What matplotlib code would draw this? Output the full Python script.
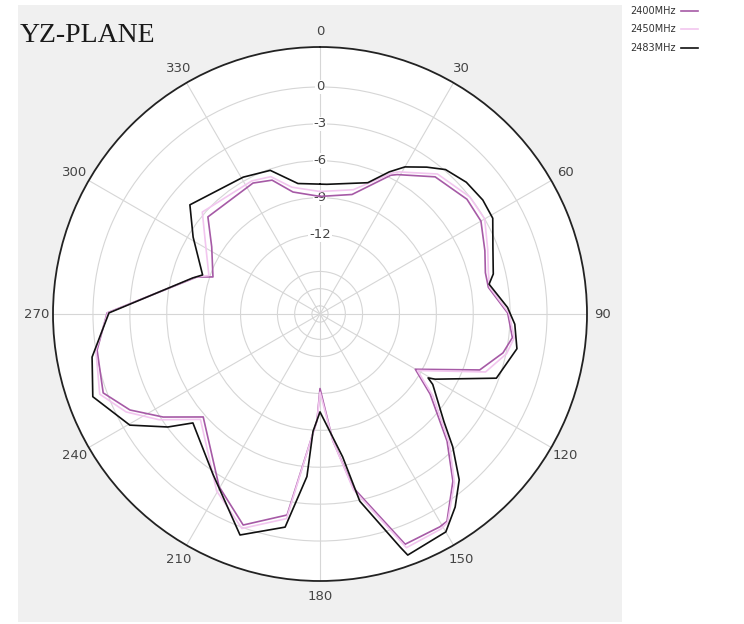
import numpy as np
import matplotlib
matplotlib.use("Agg")
import matplotlib.pyplot as plt
from matplotlib.patches import Rectangle
from matplotlib.lines import Line2D

# ---- data (angle in degrees, gain in dB) ----
ang_2400 = [0, 15, 27, 29, 40, 52, 60, 69, 76, 81, 89.7, 97, 102, 109.3, 120.1, 126,
            135, 141.5, 148.5, 150.6, 159.7, 169.2, 174.2, 180, 181.6, 189.3, 200,
            210.3, 228.6, 236.7, 243.2, 250, 260.8, 270.3, 286.7, 289.1, 301.8,
            310.9, 332.9, 340.3, 347.5]
gain_2400 = [-8.9, -8.4, -5.8, -5.5, -3.9, -3.3, -3.35, -4.1, -4.6, -4.6, -3.2, -2.7,
             -3.25, -4.7, -9.5, -7.4, -3.85, -1.1, 1.3, 1.4, 1.5, -4.1, -8.1, -12.4,
             -9.8, -1.9, -0.2, -2.2, -5.8, -3.2, -1.15, 0.3, -0.1, -1.15, -8.0, -9.25,
             -8.1, -6.4, -6.5, -6.9, -8.3]

ang_2450 = ang_2400
gain_2450 = [-8.5, -8.0, -5.6, -5.25, -3.6, -3.0, -3.0, -3.85, -4.35, -4.5, -3.1, -2.55,
             -2.95, -4.2, -9.3, -7.1, -3.6, -0.9, 1.4, 1.6, 1.8, -3.9, -8.1, -12.1,
             -9.8, -1.6, 0.1, -1.8, -5.5, -2.8, -0.8, 0.6, 0.0, -1.2, -7.95, -8.9,
             -7.5, -5.8, -6.3, -6.6, -7.9]

ang_2483 = [0, 3, 20, 26, 30, 36, 41, 48, 55, 61, 69, 77, 80, 88, 93, 100, 110, 119.5,
            120.6, 122, 131, 135, 140, 145, 150, 160, 161, 168, 171, 180, 183.4, 184.6,
            189.3, 199.9, 213.8, 229.4, 233.4, 239.7, 250, 259.3, 270.3, 285.8, 288.4,
            301.2, 310, 330.7, 340.9, 350.4]
gain_2483 = [-7.9, -7.9, -7.1, -5.6, -4.65, -3.7, -2.9, -2.45, -2.3, -2.4, -3.4, -4.0,
             -4.5, -3.2, -2.6, -2.2, -3.2, -7.7, -8.25, -7.65, -5.1, -3.2, -0.85, 0.7,
             2.0, 2.4, 1.6, -2.9, -6.7, -10.5, -8.9, -5.2, -0.9, 0.65, -2.8, -4.85,
             -3.05, -0.55, 1.2, 0.4, -1.3, -7.7, -8.4, -6.4, -4.65, -5.7, -6.1, -7.7]

series_names = ["2400MHz", "2450MHz", "2483MHz"]
series_colors = ["#a65aa6", "#f2c6ef", "#111111"]

theta_ticks = list(range(0, 360, 30))
theta_labels = [str(t) for t in theta_ticks]
ring_values = [-17.8, -16.4, -15, -12, -9, -6, -3, 0]
ring_labels = ["0", "-3", "-6", "-9", "-12"]
ring_label_values = [0, -3, -6, -9, -12]

W, H = 744, 624
fig = plt.figure(figsize=(W / 100, H / 100), dpi=100)
fig.patch.set_facecolor("white")

# gray panel
fig.patches.append(Rectangle((18 / W, 2 / H), (622 - 18) / W, (622 - 5) / H,
                             transform=fig.transFigure, facecolor="#f0f0f0",
                             edgecolor="none", zorder=-5))

cx, cy, R = 320, 314, 267
ax = fig.add_axes([(cx - R) / W, (H - cy - R) / H, 2 * R / W, 2 * R / H],
                  projection="polar")
ax.set_zorder(2)
ax.set_facecolor("white")
ax.set_theta_zero_location("N")
ax.set_theta_direction(-1)
ax.set_ylim(-18.46, 3.25)

ax.set_thetagrids(theta_ticks, theta_labels)
ax.set_rgrids(ring_values, labels=[""] * len(ring_values))
ax.grid(True, color="#d6d6d6", lw=0.8)
ax.tick_params(axis="x", pad=1, labelsize=9.5, colors="#444444")
ax.spines["polar"].set_color("#222222")
ax.spines["polar"].set_linewidth(1.3)

for v, lab in zip(ring_label_values, ring_labels):
    ax.text(0, v, lab, ha="center", va="center", fontsize=9.5, color="#444444",
            bbox=dict(facecolor="white", edgecolor="none", pad=0.6), zorder=3)

angs = [ang_2400, ang_2450, ang_2483]
gains = [gain_2400, gain_2450, gain_2483]
for a, g, c in zip(angs, gains, series_colors):
    th = np.deg2rad(np.array(list(a) + [a[0]]))
    gg = np.array(list(g) + [g[0]])
    ax.plot(th, gg, color=c, lw=1.2, zorder=4)

# title
fig.text(20 / W, 1 - 42 / H, "YZ-PLANE", family="Liberation Serif", fontsize=20,
         color="#1a1a1a", va="baseline", ha="left")

# legend (outside panel, top right)
rows_y = [11, 29, 48]
for name, c, yy in zip(series_names, series_colors, rows_y):
    fig.text(630 / W, 1 - yy / H, name, fontsize=7, color="#333333",
             va="center", ha="left")
    fig.lines.append(Line2D([681 / W, 698 / W], [1 - yy / H, 1 - yy / H],
                            transform=fig.transFigure, color=c, lw=1.2))

fig.savefig("out.png", dpi=100)
